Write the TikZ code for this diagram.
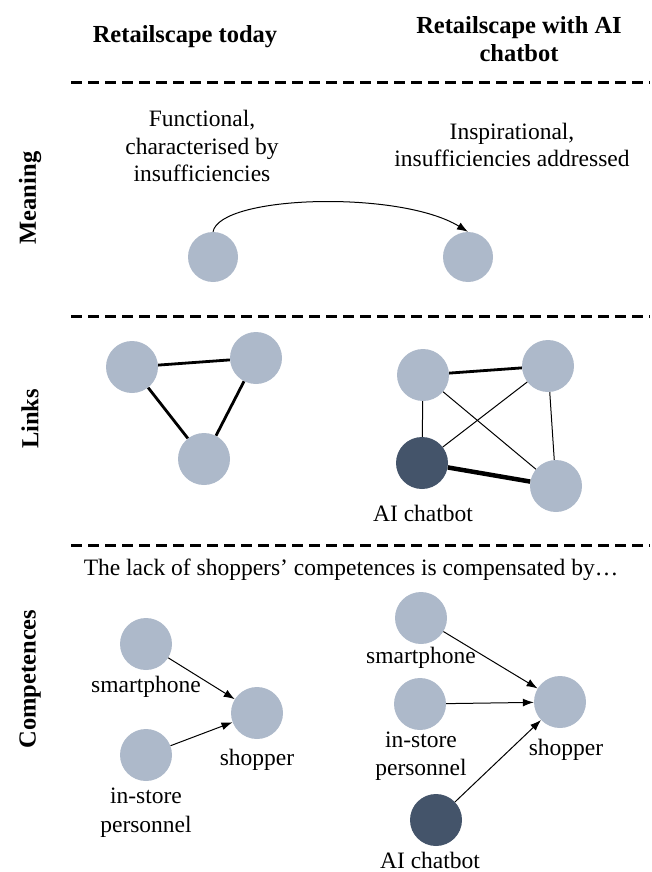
\documentclass[tikz,border=0pt]{standalone}
\usepackage{fontspec}
\setmainfont{Liberation Serif}
\usetikzlibrary{arrows.meta}
\definecolor{lightnode}{HTML}{ADB9CA}
\definecolor{darknode}{HTML}{44546A}
\begin{document}
\begin{tikzpicture}[x=1pt,y=-1pt,
  lnode/.style={circle,fill=lightnode,draw=none,minimum size=52pt,inner sep=0pt},
  dnode/.style={circle,fill=darknode,draw=none,minimum size=52pt,inner sep=0pt},
  body/.style={font=\fontsize{23.5}{27.5}\selectfont,align=center,inner sep=0pt},
  head/.style={font=\fontsize{24.5}{28}\selectfont\bfseries,align=center,inner sep=0pt},
  side/.style={font=\fontsize{24.5}{28}\selectfont\bfseries,rotate=90,inner sep=0pt},
  divider/.style={line width=3pt,dash pattern=on 11pt off 6pt},
  arr/.style={line width=1pt,-{Latex[length=11pt,width=8pt]}},
  thinlink/.style={line width=1pt},
  midlink/.style={line width=2.8pt},
  boldlink/.style={line width=4.5pt}]
\useasboundingbox (0,0) rectangle (652,872);

% headers
\node[head] (h1) at (185,37) {Retailscape today};
\node[head] (h2) at (519,39) {Retailscape with AI\\chatbot};

% dividers
\coordinate (d1a) at (71,83);  \coordinate (d1b) at (650,83);
\coordinate (d2a) at (71,316); \coordinate (d2b) at (650,316);
\coordinate (d3a) at (71,545); \coordinate (d3b) at (650,545);
\draw[divider] (d1a) -- (d1b);
\draw[divider] (d2a) -- (d2b);
\draw[divider] (d3a) -- (d3b);

% side labels
\node[side] (s1) at (30,198) {Meaning};
\node[side] (s2) at (30,419) {Links};
\node[side] (s3) at (30,679) {Competences};

% Meaning
\node[body] (m1) at (202,146) {Functional,\\characterised by\\insufficiencies};
\node[body] (m2) at (512,145) {Inspirational,\\insufficiencies addressed};
\node[lnode,minimum size=50pt] (mc1) at (213,257) {};
\node[lnode,minimum size=50pt] (mc2) at (468,257) {};
\draw[arr] (mc1.north) .. controls (220,195) and (400,190) .. (mc2.north);

% Links
\node[lnode] (la) at (132,367) {};
\node[lnode] (lb) at (256,358) {};
\node[lnode] (lc) at (204,459) {};
\draw[midlink] (la) -- (lb);
\draw[midlink] (la) -- (lc);
\draw[midlink] (lb) -- (lc);

\node[lnode] (ra) at (423,375) {};
\node[lnode] (rb) at (548,366) {};
\node[dnode] (rd) at (422,463) {};
\node[lnode] (rc) at (556,486) {};
\draw[midlink] (ra) -- (rb);
\draw[thinlink] (ra) -- (rd);
\draw[thinlink] (ra) -- (rc);
\draw[thinlink] (rb) -- (rd);
\draw[thinlink] (rb) -- (rc);
\draw[boldlink] (rd) -- (rc);
\node[body] (rdl) at (423,513) {AI chatbot};

% Competences
\node[body] (ct) at (351,570) {The lack of shoppers’ competences is compensated by…};

\node[lnode] (cs1) at (146,644) {};
\node[body] (cs1l) at (146,687) {smartphone};
\node[lnode] (ci1) at (146,755) {};
\node[body,font=\fontsize{23.5}{29}\selectfont] (ci1l) at (146,813) {in-store\\personnel};
\node[lnode] (cp1) at (257,713) {};
\node[body] (cp1l) at (257,760) {shopper};
\draw[arr] (cs1) -- (cp1);
\draw[arr] (ci1) -- (cp1);

\node[lnode] (cs2) at (421,618) {};
\node[body] (cs2l) at (421,658) {smartphone};
\node[lnode] (ci2) at (420,704) {};
\node[body] (ci2l) at (421,756) {in-store\\personnel};
\node[dnode] (ca2) at (436,820) {};
\node[body] (ca2l) at (430,860) {AI chatbot};
\node[lnode] (cp2) at (560,702) {};
\node[body] (cp2l) at (566,750) {shopper};
\draw[arr] (cs2) -- (cp2);
\draw[arr] (ci2) -- (cp2);
\draw[arr] (ca2) -- (cp2);
\end{tikzpicture}
\end{document}
